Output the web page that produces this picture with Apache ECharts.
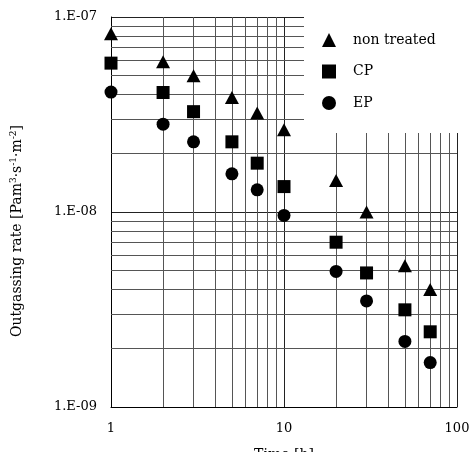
<!DOCTYPE html>
<html>
<head>
<meta charset="utf-8">
<script src="https://cdn.jsdelivr.net/npm/echarts@6/dist/echarts.min.js"></script>
<style>html,body{margin:0;padding:0;background:#fff;}#c{width:469px;height:452px;}</style>
</head>
<body>
<div id="c"></div>
<script>
const times = [1, 2, 3, 5, 7, 10, 20, 30, 50, 70];
const nonTreated = [8.2e-8, 5.9e-8, 5.0e-8, 3.87e-8, 3.22e-8, 2.64e-8, 1.45e-8, 1.0e-8, 5.3e-9, 4.0e-9];
const cp = [5.8e-8, 4.1e-8, 3.27e-8, 2.29e-8, 1.78e-8, 1.35e-8, 7.0e-9, 4.87e-9, 3.15e-9, 2.43e-9];
const ep = [4.12e-8, 2.82e-8, 2.29e-8, 1.57e-8, 1.30e-8, 9.6e-9, 4.96e-9, 3.5e-9, 2.17e-9, 1.69e-9];
const seriesNames = ['non treated', 'CP', 'EP'];
const xMinor = [2, 3, 4, 5, 6, 7, 8, 9, 20, 30, 40, 50, 60, 70, 80, 90];
const yMinor = [2e-9, 3e-9, 4e-9, 5e-9, 6e-9, 7e-9, 8e-9, 9e-9, 2e-8, 3e-8, 4e-8, 5e-8, 6e-8, 7e-8, 8e-8, 9e-8];
const xRange = [1, 100];
const yRange = [1e-9, 1e-7];

const FONT = 'DejaVu Serif';
const pair = (ys) => times.map((t, i) => [t, ys[i]]);

const chart = echarts.init(document.getElementById('c'), null, {renderer: 'canvas'});
const gridLines = xMinor.map(v => [{coord: [v, yRange[0]]}, {coord: [v, yRange[1]]}])
  .concat(yMinor.map(v => [{coord: [xRange[0], v]}, {coord: [xRange[1], v]}]));

chart.setOption({
  animation: false,
  backgroundColor: '#fff',
  textStyle: {fontFamily: FONT, color: '#000'},
  grid: {left: 111, right: 12, top: 17, bottom: 45, containLabel: false, outerBoundsMode: 'none'},
  legend: {
    orient: 'vertical',
    left: 317, top: 28,
    itemWidth: 14, itemHeight: 14, itemGap: 17.5,
    z: 20,
    textStyle: {fontFamily: FONT, fontSize: 14, color: '#000', padding: [0, 0, 0, 12]},
    data: [
      {name: 'non treated', icon: 'triangle'},
      {name: 'CP', icon: 'rect'},
      {name: 'EP', icon: 'circle'}
    ]
  },
  graphic: [{
    type: 'rect', left: 304, top: 0, z: 10, silent: true,
    shape: {width: 165, height: 133},
    style: {fill: '#fff'}
  }],
  xAxis: {
    type: 'log', logBase: 10, min: xRange[0], max: xRange[1],
    name: 'Time [h]', nameLocation: 'middle', nameGap: 41,
    nameTextStyle: {fontFamily: FONT, fontSize: 14, color: '#000', verticalAlign: 'top'},
    axisLine: {show: true, lineStyle: {color: '#000', width: 1}},
    axisTick: {show: false},
    axisLabel: {fontFamily: FONT, fontSize: 13, color: '#000', margin: 15},
    splitLine: {show: true, lineStyle: {color: '#222', width: 1}},
    minorTick: {show: false}, minorSplitLine: {show: false}
  },
  yAxis: {
    type: 'log', logBase: 10, min: yRange[0], max: yRange[1],
    name: '{n|Outgassing rate [Pam}{s|3}{n|·s}{s|-1}{n|·m}{s|-2}{n|]}',
    nameLocation: 'middle', nameGap: 85,
    nameTextStyle: {
      fontFamily: FONT, fontSize: 14, color: '#000', padding: [0, 38, 0, 0],
      rich: {
        n: {fontFamily: FONT, fontSize: 14, color: '#000'},
        s: {fontFamily: FONT, fontSize: 9, color: '#000', padding: [0, 0, 8, 0]}
      }
    },
    axisLine: {show: true, lineStyle: {color: '#000', width: 1}},
    axisTick: {show: false},
    axisLabel: {
      fontFamily: FONT, fontSize: 13, color: '#000', margin: 14,
      formatter: v => '1.E-' + String(-Math.round(Math.log10(v))).padStart(2, '0')
    },
    splitLine: {show: true, lineStyle: {color: '#222', width: 1}},
    minorTick: {show: false}, minorSplitLine: {show: false}
  },
  series: [
    {
      name: seriesNames[0], type: 'scatter', symbol: 'triangle', symbolSize: [14, 13],
      itemStyle: {color: '#000', opacity: 1}, data: pair(nonTreated), z: 3,
      markLine: {
        silent: true, symbol: 'none', z: 1, animation: false,
        label: {show: false},
        lineStyle: {color: '#555', width: 1, type: 'solid'},
        emphasis: {disabled: true},
        data: gridLines
      }
    },
    {
      name: seriesNames[1], type: 'scatter', symbol: 'rect', symbolSize: 13,
      itemStyle: {color: '#000', opacity: 1}, data: pair(cp), z: 3
    },
    {
      name: seriesNames[2], type: 'scatter', symbol: 'circle', symbolSize: 13,
      itemStyle: {color: '#000', opacity: 1}, data: pair(ep), z: 3
    }
  ]
});
</script>
</body>
</html>
